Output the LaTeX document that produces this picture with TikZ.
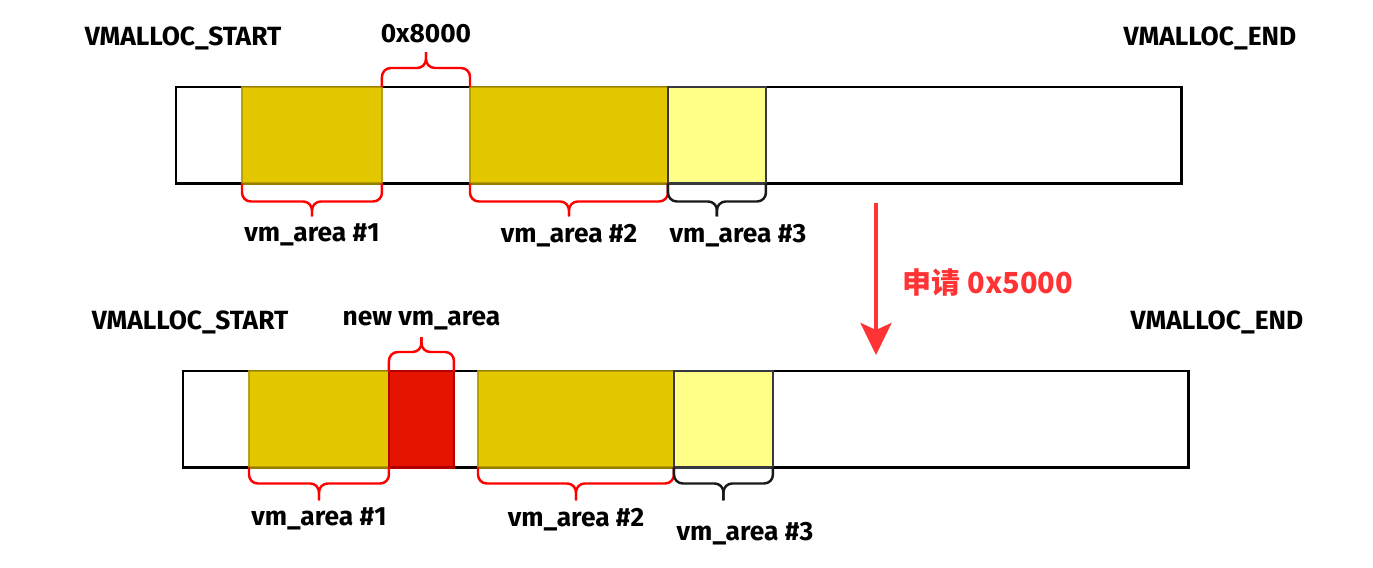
\documentclass[tikz,border=0pt]{standalone}
\usepackage{fontspec}
\setmainfont{Fira Sans}
\newfontfamily\cjkfont{Noto Sans CJK SC}
\usetikzlibrary{positioning, calc, arrows.meta}

\definecolor{areayellow}{HTML}{E3C800}
\definecolor{areaedge}{HTML}{B09500}
\definecolor{freeyellow}{HTML}{FFFF88}
\definecolor{freeedge}{HTML}{36393D}
\definecolor{newred}{HTML}{E51400}
\definecolor{newedge}{HTML}{B20000}
\definecolor{reqred}{HTML}{FF3333}

\begin{document}
\begin{tikzpicture}[
		x=0.02cm, y=-0.02cm,
		font=\bfseries\fontsize{15}{18}\selectfont,
		% the whole vmalloc range
		vmrange/.style={draw=black, line width=1.7pt, minimum width=20.12cm, minimum height=1.93cm, inner sep=0pt, outer sep=0pt, anchor=north west},
		% used and free vm_area blocks
		used/.style={fill=areayellow, draw=areaedge, draw opacity=0.85, line width=1.2pt, minimum height=1.93cm, inner sep=0pt, outer sep=0pt, anchor=north west},
		spare/.style={fill=freeyellow, draw=freeedge, line width=1.2pt, minimum height=1.93cm, inner sep=0pt, outer sep=0pt, anchor=north west},
		fresh/.style={fill=newred, draw=newedge, line width=1.2pt, minimum height=1.93cm, inner sep=0pt, outer sep=0pt, anchor=north west},
		% braces
		redbrace/.style={draw=red, line width=1.4pt, rounded corners=5pt},
		blackbrace/.style={draw=black!90, line width=1.4pt, rounded corners=5pt},
		lbl/.style={inner sep=1pt},
		req/.style={->, >={Stealth[length=0.64cm, width=0.62cm, inset=0.14cm]}, draw=reqred, line width=2.3pt}
		]
		\useasboundingbox (0,0) rectangle (1373,568);
		
		% ==============================================================
		% 1. BEFORE
		% ==============================================================
		\node[vmrange] (top) at (176,87) {};
		\node[used, minimum width=2.8cm] (tv1) at (242,87) {};
		\node[used, minimum width=3.96cm] (tv2) at (470,87) {};
		\node[spare, minimum width=1.96cm, right=0pt of tv2] (tv3) {};
		
		\node[lbl] (tstart) at (183,38) {VMALLOC\_START};
		\node[lbl] (tend) at (1210,38) {VMALLOC\_END};
		
		% gap between #1 and #2
		\coordinate (tgap) at ($(tv1.north east)!.5!(tv2.north west)+(0,-19)$);
		\draw[redbrace] (tv1.north east) |- (tgap) -- ++(0,-16) coordinate (tgaptip);
		\draw[redbrace] (tv2.north west) |- (tgap) -- (tgaptip);
		\node[lbl, above=4pt of tgaptip] (tsize) {0x8000};
		
		% braces below
		\draw[redbrace] (tv1.south west) |- ($(tv1.south)+(0,18)$) -- ($(tv1.south)+(0,33)$) coordinate (tb1);
		\draw[redbrace] (tv1.south east) |- ($(tv1.south)+(0,18)$) -- (tb1);
		\draw[redbrace] (tv2.south west) |- ($(tv2.south)+(0,18)$) -- ($(tv2.south)+(0,33)$) coordinate (tb2);
		\draw[redbrace] (tv2.south east) |- ($(tv2.south)+(0,18)$) -- (tb2);
		\draw[blackbrace] (tv3.south west) |- ($(tv3.south)+(0,18)$) -- ($(tv3.south)+(0,33)$) coordinate (tb3);
		\draw[blackbrace] (tv3.south east) |- ($(tv3.south)+(0,18)$) -- (tb3);
		
		\node[lbl, below=3pt of tb1] (tl1) {vm\_area \#1};
		\node[lbl, below=3pt of tb2] (tl2) {vm\_area \#2};
		\node[lbl, below=3pt of tb3, xshift=0.42cm] (tl3) {vm\_area \#3};
		
		% ==============================================================
		% 2. REQUEST
		% ==============================================================
		\coordinate (reqfrom) at (876,203);
		\coordinate (reqto) at (876,355);
		\draw[req] (reqfrom) -- (reqto);
		\node[text=reqred, font=\cjkfont\bfseries\fontsize{16.5}{19}\selectfont] (reqtext) at (988,283) {申请 0x5000};
		
		% ==============================================================
		% 3. AFTER
		% ==============================================================
		\node[vmrange] (bot) at (183,371) {};
		\node[used, minimum width=2.8cm] (bv1) at (249,371) {};
		\node[fresh, minimum width=1.3cm, right=0pt of bv1] (bnew) {};
		\node[used, minimum width=3.92cm] (bv2) at (478,371) {};
		\node[spare, minimum width=1.98cm, right=0pt of bv2] (bv3) {};
		
		\node[lbl] (bstart) at (190,322) {VMALLOC\_START};
		\node[lbl] (bend) at (1217,322) {VMALLOC\_END};
		
		% new area above
		\draw[redbrace] (bnew.north west) |- ($(bnew.north)+(0,-19)$) -- ($(bnew.north)+(0,-34)$) coordinate (bnewtip);
		\draw[redbrace] (bnew.north east) |- ($(bnew.north)+(0,-19)$) -- (bnewtip);
		\node[lbl, above=3pt of bnewtip] (bnewlbl) {new vm\_area};
		
		% braces below
		\draw[redbrace] (bv1.south west) |- ($(bv1.south)+(0,16)$) -- ($(bv1.south)+(0,33)$) coordinate (bb1);
		\draw[redbrace] (bv1.south east) |- ($(bv1.south)+(0,16)$) -- (bb1);
		\draw[redbrace] (bv2.south west) |- ($(bv2.south)+(0,16)$) -- ($(bv2.south)+(0,33)$) coordinate (bb2);
		\draw[redbrace] (bv2.south east) |- ($(bv2.south)+(0,16)$) -- (bb2);
		\draw[blackbrace] (bv3.south west) |- ($(bv3.south)+(0,16)$) -- ($(bv3.south)+(0,33)$) coordinate (bb3);
		\draw[blackbrace] (bv3.south east) |- ($(bv3.south)+(0,16)$) -- (bb3);
		
		\node[lbl, below=3pt of bb1] (bl1) {vm\_area \#1};
		\node[lbl, below=3pt of bb2] (bl2) {vm\_area \#2};
		\node[lbl, below=11pt of bb3, xshift=0.43cm] (bl3) {vm\_area \#3};
\end{tikzpicture}
\end{document}
